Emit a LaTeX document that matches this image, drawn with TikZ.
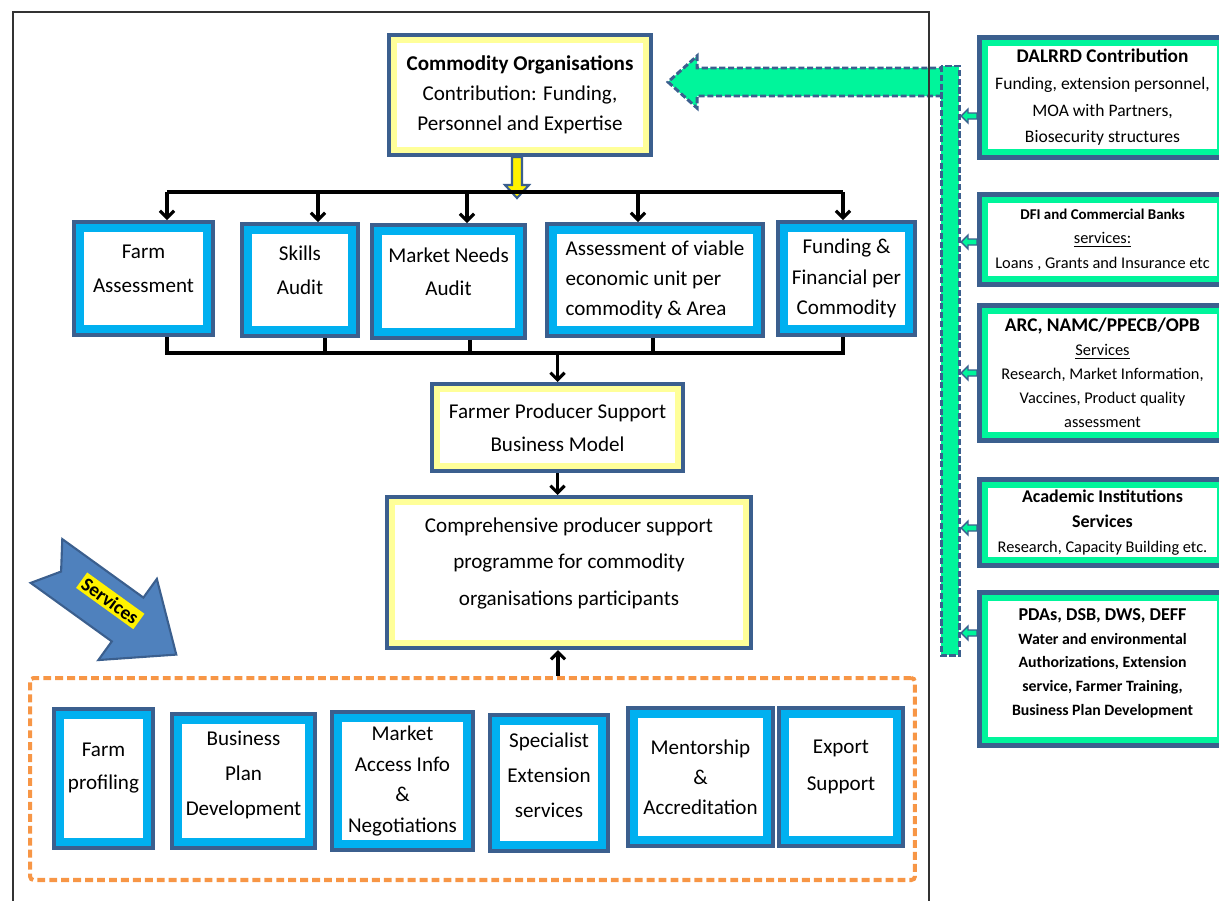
\documentclass[tikz,border=0pt]{standalone}
\usepackage{fontspec}
\setmainfont{Carlito}
\usetikzlibrary{positioning, arrows.meta}

\definecolor{frameblue}{HTML}{3B5F8E}
\definecolor{skyband}{HTML}{00B0F0}
\definecolor{paleyellow}{HTML}{FFFF99}
\definecolor{mint}{HTML}{00F59B}
\definecolor{arrowblue}{HTML}{4F81BD}
\definecolor{servorange}{HTML}{F79646}

\tikzset{
  sz/.style 2 args={minimum width=#1, minimum height=#2},
  lift/.style={text depth=#1},
  bluebox/.style={fill=white, draw=skyband, line width=4.55pt, preaction={draw=frameblue, line width=9.1pt}, outer sep=4.55pt, inner sep=1pt, align=center, font=\fontsize{12}{19}\selectfont},
  yellowbox/.style={fill=white, draw=paleyellow, line width=3.4pt, preaction={draw=frameblue, line width=8pt}, outer sep=4pt, inner sep=1pt, align=center, font=\fontsize{12}{19}\selectfont},
  greenbox/.style={fill=white, draw=mint, line width=3.4pt, preaction={draw=frameblue, line width=9.1pt}, outer sep=4.55pt, inner sep=1pt, align=center, font=\fontsize{9.3}{14}\selectfont},
  bus/.style={line width=2.3pt},
  arr/.style={line width=1.8pt, -{Straight Barb[length=4pt,width=8pt]}},
  blockarr/.style={draw=frameblue, line width=1.2pt, line join=miter},
  dashblock/.style={fill=mint, draw=frameblue, line width=1.7pt, dash pattern=on 3.5pt off 1.5pt},
}

\begin{document}
\begin{tikzpicture}[x=0.02cm, y=-0.02cm]
    \useasboundingbox (0,0) rectangle (1219,900);
    \clip (0,0) rectangle (1219,900);

    % top box
    \node[yellowbox, sz={5.04cm}{2.2cm}, font=\fontsize{12}{17}\selectfont] (commodity) at (520,95) {\textbf{Commodity Organisations}\\Contribution: Funding,\\Personnel and Expertise};
    \draw[blockarr, fill=yellow] (commodity.south) ++(-8,0) -- ++(0,28) -- ++(-7,0) -- ++(12,13) -- ++(12,-13) -- ++(-7,0) -- ++(0,-28) -- cycle;

    % assessments
    \node[bluebox, sz={2.54cm}{2.02cm}, lift=11pt] (farmA) at (143.5,278.5) {Farm\\Assessment};
    \node[bluebox, sz={2.08cm}{2.0cm}, lift=11.4pt] (skills) at (300,280) {Skills\\Audit};
    \node[bluebox, sz={2.82cm}{2.02cm}, lift=11.4pt] (marketN) at (448.5,281.5) {Market Needs\\Audit};
    \node[bluebox, sz={4.08cm}{2.0cm}, align=left, font=\fontsize{12}{17}\selectfont] (viable) at (655,280) {Assessment of viable\\economic unit per\\commodity \& Area};
    \node[bluebox, sz={2.5cm}{2.02cm}, font=\fontsize{12}{17.5}\selectfont] (funding) at (846.5,278.5) {Funding \&\\Financial per\\Commodity};

    \coordinate (t1) at (167,192);
    \coordinate (t2) at (318,192);
    \coordinate (t3) at (467,192);
    \coordinate (t4) at (638,192);
    \coordinate (t5) at (843,192);
    \draw[bus] (t1) -- (t5);
    \draw[arr] (t1) -- (t1 |- farmA.north);
    \draw[arr] (t2) -- (t2 |- skills.north);
    \draw[arr] (t3) -- (t3 |- marketN.north);
    \draw[arr] (t4) -- (t4 |- viable.north);
    \draw[arr] (t5) -- (t5 |- funding.north);

    \coordinate (b1) at (167,353);
    \coordinate (b2) at (325,353);
    \coordinate (b3) at (470,353);
    \coordinate (b4) at (653,353);
    \coordinate (b5) at (843,353);
    \draw[bus] (b1 |- farmA.south) -- (b1) -- (b5) -- (b5 |- funding.south);
    \draw[bus] (b2 |- skills.south) -- (b2);
    \draw[bus] (b3 |- marketN.south) -- (b3);
    \draw[bus] (b4 |- viable.south) -- (b4);

    % model and programme
    \node[yellowbox, sz={4.82cm}{1.54cm}] (farmer) at (557.5,427.5) {Farmer Producer Support\\Business Model};
    \node[yellowbox, sz={7.08cm}{2.82cm}, lift=12.6pt, font=\fontsize{12}{20.8}\selectfont] (comp) at (569,572.5) {Comprehensive producer support\\programme for commodity\\organisations participants};
    \draw[arr] (farmer.north |- b1) -- (farmer.north);
    \draw[arr] (farmer.south) -- (farmer.south |- comp.north);

    % services
    \node[draw=servorange, line width=2.3pt, dash pattern=on 4.5pt off 2.3pt, rounded corners=2pt, sz={17.7cm}{4.04cm}] (services) at (472.5,779) {};
    \coordinate (s1) at (558,0);
    \draw[arr] (s1 |- services.north) -- (s1 |- comp.south);

    \node[bluebox, sz={1.74cm}{2.54cm}, lift=13.8pt] (farmP) at (103.5,778.5) {Farm\\profiling};
    \node[bluebox, sz={2.62cm}{2.44cm}, lift=9.2pt, font=\fontsize{12}{20}\selectfont] (bizPlan) at (243.5,781) {Business\\Plan\\Development};
    \node[bluebox, sz={2.58cm}{2.52cm}, font=\fontsize{12}{17.6}\selectfont] (marketA) at (402.5,781) {Market\\Access Info\\\&\\Negotiations};
    \node[bluebox, sz={2.12cm}{2.48cm}, lift=9.2pt, font=\fontsize{12}{20}\selectfont] (special) at (549,783) {Specialist\\Extension\\services};
    \node[bluebox, sz={2.66cm}{2.52cm}, font=\fontsize{12}{17}\selectfont] (mentor) at (700.5,777) {Mentorship\\\&\\Accreditation};
    \node[bluebox, sz={2.24cm}{2.52cm}, lift=13.8pt, font=\fontsize{12}{21}\selectfont] (export) at (841,777) {Export\\Support};

    \begin{scope}[shift={(46.5,561)}, rotate=-35.8]
        \draw[blockarr, fill=arrowblue] (0,-27) -- (100,-27) -- (100,-50) -- (160,0) -- (100,50) -- (100,27) -- (0,27) -- (18,0) -- cycle;
        \node[fill=yellow, inner sep=1.5pt, rotate=-35.8, font=\bfseries\fontsize{11}{13}\selectfont] (servlbl) at (75,-5) {Services};
    \end{scope}

    % partners on the right
    \node[greenbox, sz={4.7cm}{2.18cm}, font=\fontsize{10}{15.2}\selectfont] (dalrrd) at (1102.5,97.5) {{\bfseries\fontsize{11}{15.2}\selectfont DALRRD Contribution}\\Funding, extension personnel,\\MOA with Partners,\\Biosecurity structures};
    \node[greenbox, sz={4.7cm}{1.58cm}] (dfi) at (1102.5,239.5) {{\bfseries\fontsize{8.5}{14}\selectfont DFI and Commercial Banks}\\\underline{services:}\\Loans , Grants and Insurance etc};
    \node[greenbox, sz={4.7cm}{2.48cm}, font=\fontsize{9.3}{13.6}\selectfont] (arc) at (1102.5,373) {{\bfseries\fontsize{11}{13.6}\selectfont ARC, NAMC/PPECB/OPB}\\\underline{Services}\\Research, Market Information,\\Vaccines, Product quality\\assessment};
    \node[greenbox, sz={4.7cm}{1.5cm}] (academic) at (1102.5,522.5) {{\bfseries\fontsize{10.2}{14}\selectfont Academic Institutions}\\{\bfseries\fontsize{10.2}{14}\selectfont Services}\\Research, Capacity Building etc.};
    \node[greenbox, sz={4.7cm}{2.84cm}, lift=8pt, font=\fontsize{9}{13.6}\selectfont\bfseries] (pdas) at (1102.5,669) {{\fontsize{10.3}{13.6}\selectfont PDAs, DSB, DWS, DEFF}\\Water and environmental\\Authorizations, Extension\\service, Farmer Training,\\Business Plan Development};

    \draw[dashblock] (945,68) -- (697,68) -- (697,56) -- (668,82) -- (697,108) -- (697,96) -- (945,96) -- cycle;
    \draw[dashblock] (941,66) rectangle (959,655);
    \foreach \b/\y in {dalrrd/116, dfi/242, arc/373, academic/528, pdas/633}
        \draw[blockarr, fill=mint, line width=0.8pt] (\b.west |- 0,\y) ++(0,-3) -- ++(-9,0) -- ++(0,-4) -- ++(-7,7) -- ++(7,7) -- ++(0,-4) -- ++(9,0) -- cycle;

    % outer frame
    \draw[line width=0.9pt, black!80] (13,905) -- (13,12) -- (929,12) -- (929,905);
\end{tikzpicture}
\end{document}
